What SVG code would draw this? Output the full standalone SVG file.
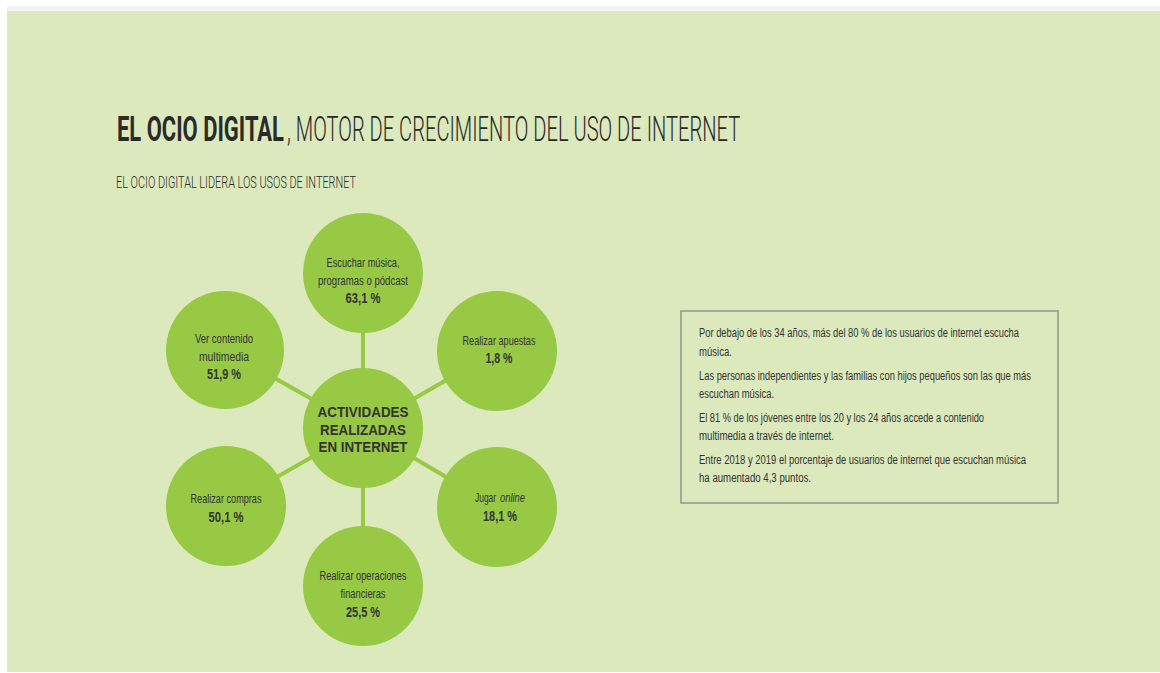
<svg xmlns="http://www.w3.org/2000/svg" width="1160" height="673" viewBox="0 0 1160 673">
<style>
.bg{fill:#dbe9bc}
.node{fill:#97c945}
.conn{stroke:#97c945;stroke-width:4;fill:none}
.t{font-family:"Liberation Sans",Arial,sans-serif;font-size:13px;fill:#333;text-anchor:middle}
.s{text-anchor:start}
.b{font-weight:bold;font-size:14px}
.c{font-family:"Liberation Sans",Arial,sans-serif;font-size:15px;font-weight:bold;fill:#333;text-anchor:middle}
.p{font-family:"Liberation Sans",Arial,sans-serif;font-size:12.5px;fill:#333}
.h{font-family:Roboto,"Liberation Sans",sans-serif;fill:#2a2a2a}
.box{fill:none;stroke:#8c9a84;stroke-width:1.5}
</style>
<rect x="0" y="0" width="1160" height="673" fill="#ffffff"/>
<rect x="7" y="6" width="1153" height="5" fill="#f3f3f3"/>
<rect class="bg" x="7" y="11" width="1153" height="661"/>
<g id="title">
<text class="h" x="0" y="0" transform="translate(117,141) scale(0.623,1)" font-size="35" font-weight="bold" textLength="268" lengthAdjust="spacingAndGlyphs">EL OCIO DIGITAL</text>
<text class="h" x="0" y="0" transform="translate(287,141) scale(0.584,1)" font-size="35" font-weight="300" textLength="776" lengthAdjust="spacingAndGlyphs">, MOTOR DE CRECIMIENTO DEL USO DE INTERNET</text>
<text class="h" x="116" y="188" font-size="16.5" font-weight="300" textLength="240" lengthAdjust="spacingAndGlyphs">EL OCIO DIGITAL LIDERA LOS USOS DE INTERNET</text>
</g>
<g id="connectors">
<line class="conn" x1="363" y1="428" x2="363" y2="273"/>
<line class="conn" x1="363" y1="428" x2="225" y2="350"/>
<line class="conn" x1="363" y1="428" x2="497" y2="351"/>
<line class="conn" x1="363" y1="428" x2="226" y2="506"/>
<line class="conn" x1="363" y1="428" x2="497" y2="507"/>
<line class="conn" x1="363" y1="428" x2="363" y2="586"/>
</g>
<g id="node-center">
<circle class="node" cx="363" cy="428" r="60"/>
<text class="c" x="363" y="417" textLength="91" lengthAdjust="spacingAndGlyphs">ACTIVIDADES</text>
<text class="c" x="363" y="435" textLength="86" lengthAdjust="spacingAndGlyphs">REALIZADAS</text>
<text class="c" x="363" y="452" textLength="89" lengthAdjust="spacingAndGlyphs">EN INTERNET</text>
</g>
<g id="node-musica">
<circle class="node" cx="363" cy="273" r="60"/>
<text class="t" x="363" y="267" textLength="73" lengthAdjust="spacingAndGlyphs">Escuchar música,</text>
<text class="t" x="363" y="285" textLength="90" lengthAdjust="spacingAndGlyphs">programas o pódcast</text>
<text class="t b" x="363" y="303" textLength="35" lengthAdjust="spacingAndGlyphs">63,1 %</text>
</g>
<g id="node-multimedia">
<circle class="node" cx="225" cy="350" r="59"/>
<text class="t" x="224" y="343" textLength="58" lengthAdjust="spacingAndGlyphs">Ver contenido</text>
<text class="t" x="224" y="361" textLength="50" lengthAdjust="spacingAndGlyphs">multimedia</text>
<text class="t b" x="224" y="379" textLength="34" lengthAdjust="spacingAndGlyphs">51,9 %</text>
</g>
<g id="node-apuestas">
<circle class="node" cx="497" cy="351" r="60"/>
<text class="t" x="499" y="345" textLength="73" lengthAdjust="spacingAndGlyphs">Realizar apuestas</text>
<text class="t b" x="499" y="363" textLength="27" lengthAdjust="spacingAndGlyphs">1,8 %</text>
</g>
<g id="node-compras">
<circle class="node" cx="226" cy="506" r="60"/>
<text class="t" x="226" y="503" textLength="71" lengthAdjust="spacingAndGlyphs">Realizar compras</text>
<text class="t b" x="226" y="522" textLength="35" lengthAdjust="spacingAndGlyphs">50,1 %</text>
</g>
<g id="node-jugar">
<circle class="node" cx="497" cy="507" r="60"/>
<text class="t s" x="0" y="0" transform="translate(475,502) scale(0.65,1)" textLength="32.5" lengthAdjust="spacingAndGlyphs">Jugar</text>
<text class="t s" x="0" y="0" transform="translate(500,502) scale(0.72,1)" font-style="italic" textLength="34.7" lengthAdjust="spacingAndGlyphs">online</text>
<text class="t b" x="500" y="521" textLength="34" lengthAdjust="spacingAndGlyphs">18,1 %</text>
</g>
<g id="node-financieras">
<circle class="node" cx="363" cy="586" r="60"/>
<text class="t" x="363" y="580" textLength="87" lengthAdjust="spacingAndGlyphs">Realizar operaciones</text>
<text class="t" x="363" y="598" textLength="45" lengthAdjust="spacingAndGlyphs">financieras</text>
<text class="t b" x="363" y="617" textLength="34" lengthAdjust="spacingAndGlyphs">25,5 %</text>
</g>
<g id="node-info">
<rect class="box" x="681" y="311" width="377" height="192"/>
<text class="p" x="699" y="337" textLength="320" lengthAdjust="spacingAndGlyphs">Por debajo de los 34 años, más del 80 % de los usuarios de internet escucha</text>
<text class="p" x="699" y="356" textLength="33" lengthAdjust="spacingAndGlyphs">música.</text>
<text class="p" x="699" y="380" textLength="332" lengthAdjust="spacingAndGlyphs">Las personas independientes y las familias con hijos pequeños son las que más</text>
<text class="p" x="699" y="398" textLength="75" lengthAdjust="spacingAndGlyphs">escuchan música.</text>
<text class="p" x="699" y="422" textLength="285" lengthAdjust="spacingAndGlyphs">El 81 % de los jóvenes entre los 20 y los 24 años accede a contenido</text>
<text class="p" x="699" y="440" textLength="135" lengthAdjust="spacingAndGlyphs">multimedia a través de internet.</text>
<text class="p" x="699" y="464" textLength="327" lengthAdjust="spacingAndGlyphs">Entre 2018 y 2019 el porcentaje de usuarios de internet  que escuchan música</text>
<text class="p" x="699" y="482" textLength="112" lengthAdjust="spacingAndGlyphs">ha aumentado 4,3 puntos.</text>
</g>
</svg>
